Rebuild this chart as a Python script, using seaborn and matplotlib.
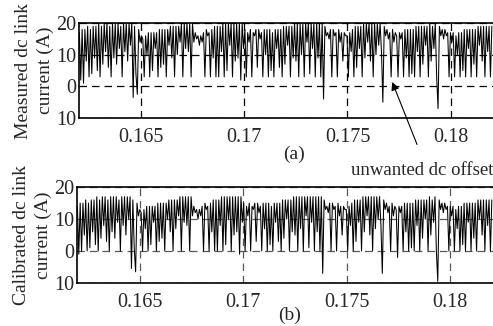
import numpy as np
import pandas as pd
import matplotlib
matplotlib.use("Agg")
import matplotlib.pyplot as plt
import seaborn as sns

# time window of both traces (s)
t_start, t_end = 0.162, 0.182

# measured dc link current (A)
measured = [
    17, 2, 18, 1, 18, 8, 19, 3, 18, 4, 19, 9, 19, 5, 20, 3, 19, 7, 20, 11,
    20, 6, 19, 3, 20, 9, 20, 7, 20, 12, 19, 3, 20, 11, 20, 8, 20, 13, 20, -3.5,
    19, 4, -2.5, 18, 14, 16, 15, 3, 16, 10, 17, 3, 17, 5, 17, 12, 17, 3, 18, 6,
    18, 7, 18, 3, 18, 13, 19, 9, 19, 3, 19, 10, 19, 14, 20, 3, 20, 12, 20, 11,
    20, 3, 20, 14, 17, 15, 16, 13, 16, 14, 17, 3, 18, 16, 17, 3, 18, 9, 19, 3,
    19, 3, 19, 11, 20, 3, 20, 5, 20, 13, 20, 3, 20, 8, 20, 9, 20, 2, 20, 12,
    18, 3, 17, 14, 18, 3, 17, 16, 18, 6, 18, 15, 17, 3, 18, 10, 18, 3, 18, 5,
    17, 3, 18, 12, 18, 6, 18, 3, 19, 7, 19, 13, 19, 3, 19, 9, 20, 8, 20, 3,
    20, 10, 20, 3, 20, 14, 20, 4, 20, 12, 20, 3, 20, 9, 20, 3, 20, -4, 19, 16,
    17, 15, 18, 3, 18, 16, 17, 3, 18, 14, 17, 8, 17, 16, 16, 3, 17, 11, 18, 3,
    19, 6, 19, 12, 19, 3, 20, 9, 20, 14, 20, 8, 20, 3, 20, 10, 20, 13, 20, 11,
    -5, 19, 16, 18, 15, 17, 3, 18, 14, 17, 16, 3, 17, 15, 17, 3, 18, 9, 18, 3,
    18, 4, 18, 3, 19, 11, 19, 3, 19, 7, 19, 13, 19, 3, 20, 8, 19, 12, 20, 3,
    -7, 19, 16, 18, 15, 18, 16, 17, 3, 17, 14, 17, 3, 16, 10, 17, 3, 17, 5, 18,
    3, 18, 12, 18, 3, 18, 7, 18, 3, 19, 13, 19, 8, 19, 3, 19, 11, 19, 3, 19,
]

# calibrated dc link current (A)
calibrated = [
    14, -1, 15, 0, 15, 5, 16, 0, 15, 1, 16, 6, 16, 2, 17, 0, 16, 4, 17, 8,
    17, 3, 16, 0, 17, 6, 17, 4, 17, 9, 16, 0, 17, 8, 17, 5, 17, 10, 17, -5.5,
    16, 1, -6.5, 15, 11, 13, 12, 0, 13, 7, 14, 0, 14, 2, 14, 9, 14, 0, 15, 3,
    15, 4, 15, 0, 15, 10, 16, 6, 16, 0, 16, 7, 16, 11, 17, 0, 17, 9, 17, 8,
    17, 0, 17, 11, 14, 12, 13, 10, 13, 11, 14, 0, 15, 13, 14, 0, 15, 6, 16, 0,
    16, 0, 16, 8, 17, 0, 17, 2, 17, 10, 17, 0, 17, 5, 17, 6, 17, -1, 17, 9,
    15, 0, 14, 11, 15, 0, 14, 13, 15, 3, 15, 12, 14, 0, 15, 7, 15, 0, 15, 2,
    14, 0, 15, 9, 15, 3, 15, 0, 16, 4, 16, 10, 16, 0, 16, 6, 17, 5, 17, 0,
    17, 7, 17, 0, 17, 11, 17, 1, 17, 9, 17, 0, 17, 6, 17, 0, 17, -7, 16, 13,
    14, 12, 15, 0, 15, 13, 14, 0, 15, 11, 14, 5, 14, 13, 13, 0, 14, 8, 15, 0,
    16, 3, 16, 9, 16, 0, 17, 6, 17, 11, 17, 5, 17, 0, 17, 7, 17, 10, 17, 8,
    -7, 16, 13, 15, 12, 14, 0, 15, 11, 14, 13, -2, 14, 12, 14, 0, 15, 6, 15, 0,
    15, 1, 15, 0, 16, 8, 16, 0, 16, 4, 16, 10, 16, 0, 17, 5, 16, 9, 17, 0,
    -9.5, 16, 13, 15, 12, 15, 13, 14, 0, 14, 11, 14, 0, 13, 7, 14, 0, 14, 2, 15,
    0, 15, 9, 15, 0, 15, 4, 15, 0, 16, 10, 16, 5, 16, 0, 16, 8, 16, 0, 16,
]

x_ticks = [0.165, 0.17, 0.175, 0.18]
x_tick_labels = ["0.165", "0.17", "0.175", "0.18"]
y_ticks = [-10, 0, 10, 20]
y_tick_labels = ["10", "0", "10", "20"]

df_a = pd.DataFrame({"t": np.linspace(t_start, t_end, len(measured)), "i": measured})
df_b = pd.DataFrame({"t": np.linspace(t_start, t_end, len(calibrated)), "i": calibrated})

sns.set_style("white")
plt.rcParams["font.family"] = ["Liberation Serif", "DejaVu Serif"]
plt.rcParams["font.size"] = 14

fig = plt.figure(figsize=(4.93, 3.26), dpi=100)
ax_a = fig.add_axes([0.161, 0.638, 0.845, 0.291])
ax_b = fig.add_axes([0.157, 0.132, 0.849, 0.294])

panels = [
    (ax_a, df_a, "Measured dc link\ncurrent (A)", "black"),
    (ax_b, df_b, "Calibrated dc link\ncurrent (A)", "0.35"),
]
for ax, df, label, gcol in panels:
    sns.lineplot(data=df, x="t", y="i", ax=ax, color="black", lw=0.75,
                 estimator=None, sort=False, zorder=3)
    ax.set_xlim(0.162, 0.1822)
    ax.set_ylim(-10, 20)
    ax.set_xticks(x_ticks)
    ax.set_xticklabels(x_tick_labels)
    ax.set_yticks(y_ticks)
    ax.set_yticklabels(y_tick_labels)
    ax.grid(True, color=gcol, linestyle=(0, (6, 4)), lw=0.9)
    ax.set_axisbelow(True)
    ax.tick_params(length=0, labelsize=14.5, pad=2)
    ax.tick_params(axis="x", pad=7)
    for s in ax.spines.values():
        s.set_color("black")
        s.set_linewidth(1.2)
    ax.spines["right"].set_visible(False)
    ax.set_xlabel("")
    ax.set_ylabel(label, fontsize=14, linespacing=1.35, labelpad=2)

fig.text(0.597, 0.528, "(a)", fontsize=14, ha="center", va="center")
fig.text(0.587, 0.034, "(b)", fontsize=14, ha="center", va="center")

ax_a.annotate("", xy=(0.17712, 2.2), xycoords="data",
              xytext=(0.848, 0.549), textcoords="figure fraction",
              arrowprops=dict(arrowstyle="-|>", color="black", lw=0.8,
                              mutation_scale=12))
fig.text(1.0, 0.478, "unwanted dc offset", fontsize=13.5,
         ha="right", va="center")

fig.savefig("out.png", dpi=100)
